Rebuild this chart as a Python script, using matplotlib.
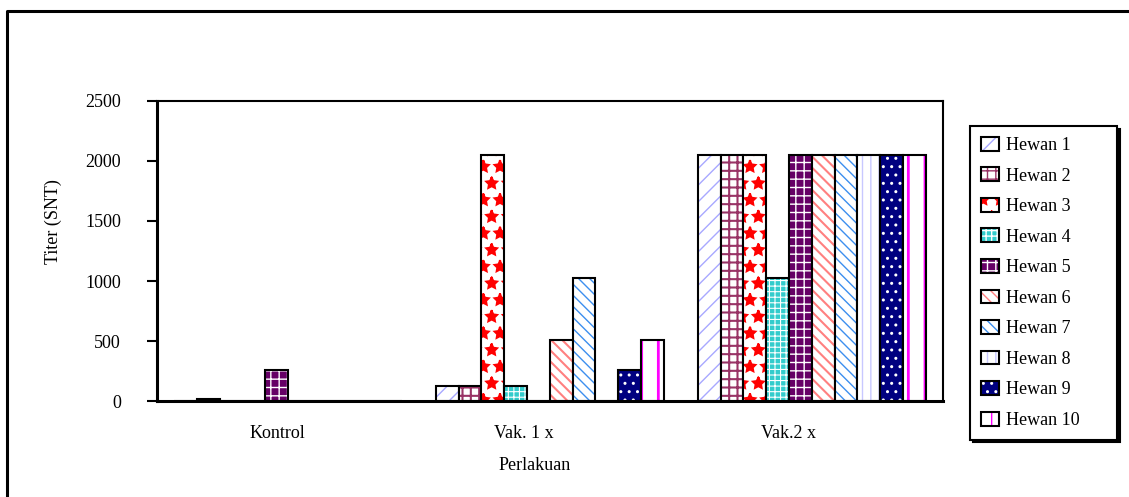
import numpy as np
import matplotlib
matplotlib.use('Agg')
import matplotlib.pyplot as plt
from matplotlib.patches import Patch
from matplotlib.lines import Line2D

plt.rcParams['font.family'] = ['Liberation Serif', 'DejaVu Serif']
plt.rcParams['font.size'] = 13

categories = ['Kontrol', 'Vak. 1 x', 'Vak.2 x']
animals = ['Hewan %d' % i for i in range(1, 11)]

# titer per animal, one list per group
kontrol = [4, 16, 0, 4, 256, 0, 0, 0, 0, 0]
vak1 = [128, 128, 2048, 128, 4, 512, 1024, 0, 256, 512]
vak2 = [2048, 2048, 2048, 1024, 2048, 2048, 2048, 2048, 2048, 2048]

y_ticks = [0, 500, 1000, 1500, 2000, 2500]

# (face, hatch, hatch colour, hatch linewidth)
styles = [
    ('white', '//', '#A8A8FF', 1.0),
    ('white', '++', '#993366', 1.5),
    ('white', '*', 'red', 1.5),
    ('#33CCCC', '+++', 'white', 0.8),
    ('#660066', '++', 'white', 1.0),
    ('white', '\\\\\\', '#FF8080', 1.5),
    ('white', '\\\\\\', '#3D8FEF', 1.0),
    ('white', '||', '#C8C8FF', 1.0),
    ('#000080', '..', 'white', 1.0),
    ('white', '|', '#FF00FF', 2.0),
]

values = np.array([kontrol, vak1, vak2])

fig = plt.figure(figsize=(11.29, 4.97), dpi=100)
ax = fig.add_axes([0.139, 0.193, 0.696, 0.604])

x = np.arange(len(categories))
w = 0.087
handles = []
for j, name in enumerate(animals):
    face, hatch, hcol, hlw = styles[j]
    pos = x + (j - 4.5) * w
    with plt.rc_context({'hatch.linewidth': hlw}):
        ax.bar(pos, values[:, j], w, color=face, edgecolor=hcol, hatch=hatch, linewidth=0)
        h1 = Patch(facecolor=face, edgecolor=hcol, hatch=hatch, linewidth=0)
    ax.bar(pos, values[:, j], w, fill=False, edgecolor='black', linewidth=1.5)
    h2 = Patch(fill=False, edgecolor='black', linewidth=1.5)
    handles.append((h1, h2))

ax.set_xlim(-0.5, 2.5)
ax.set_ylim(0, 2500)
ax.set_yticks(y_ticks)
ax.tick_params(axis='y', direction='out', length=7, width=1.5, pad=19)

label_shift = [-0.04, -0.10, -0.09]
ax.set_xticks(x + np.array(label_shift))
ax.set_xticklabels(categories)
ax.tick_params(axis='x', length=0, pad=17)

for side in ['left', 'bottom']:
    ax.spines[side].set_linewidth(2.2)
for side in ['top', 'right']:
    ax.spines[side].set_linewidth(1.5)

fig.text(53 / 1129, 1 - 222 / 497, 'Titer (SNT)', rotation=90, ha='center', va='center')
fig.text(535 / 1129, 1 - 465 / 497, 'Perlakuan', ha='center', va='center')

leg = fig.legend(handles, animals, loc='upper left', mode='expand',
                 bbox_to_anchor=(970 / 1129, 0.7465, 147 / 1129, 0.0),
                 fancybox=False, shadow={'color': 'black', 'alpha': 1},
                 edgecolor='black', framealpha=1, borderaxespad=0,
                 handlelength=1.0, handleheight=0.8, handletextpad=0.4,
                 labelspacing=0.74, borderpad=0.6)
leg.get_frame().set_linewidth(1.5)

# outer frame
fig.add_artist(Line2D([7 / 1129, 7 / 1129, 1.0], [0.0, 1 - 11 / 497, 1 - 11 / 497],
                      transform=fig.transFigure, color='black', linewidth=2.2))

fig.savefig('out.png', dpi=100)
